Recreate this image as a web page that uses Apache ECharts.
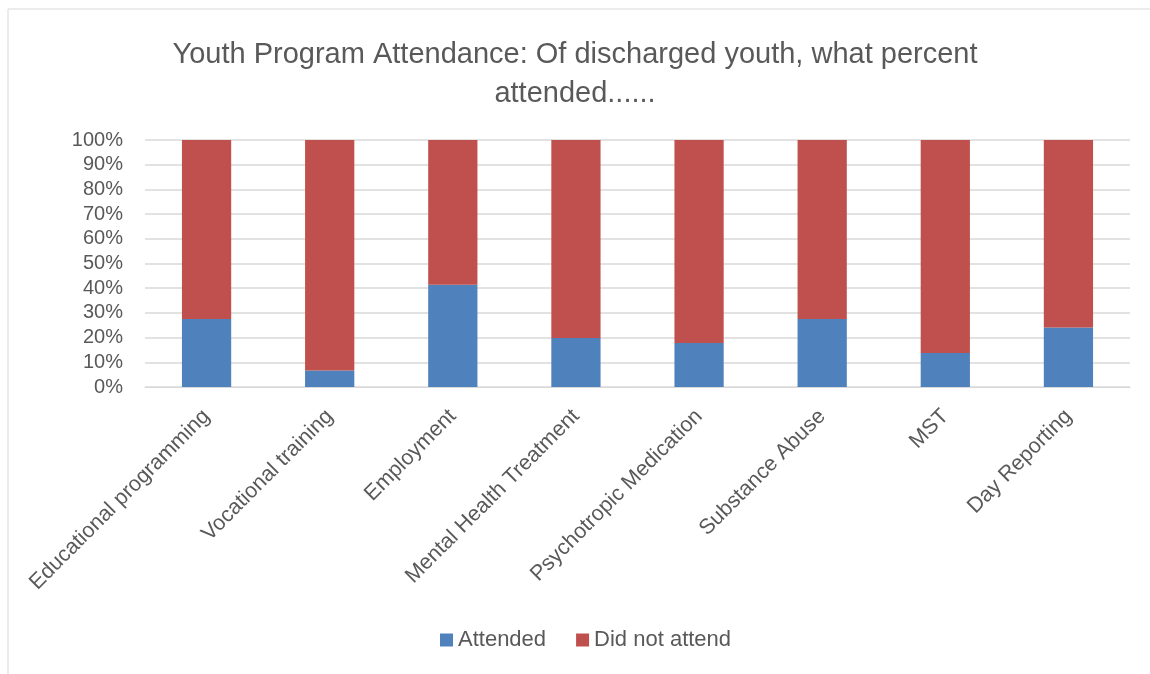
<!DOCTYPE html>
<html><head><meta charset="utf-8">
<script src="https://cdn.jsdelivr.net/npm/echarts@6/dist/echarts.min.js"></script>
<style>html,body{margin:0;padding:0;background:#fff}#c{width:1150px;height:674px}</style>
</head><body><div id="c"></div>
<script>
const categories = ["Educational programming","Vocational training","Employment","Mental Health Treatment","Psychotropic Medication","Substance Abuse","MST","Day Reporting"];
const attended = [27.5, 6.7, 41.4, 19.8, 17.8, 27.5, 13.8, 24.1];
const didNotAttend = attended.map(v => +(100 - v).toFixed(1));
const yTicks = [0,10,20,30,40,50,60,70,80,90,100];
const FONT = "'Liberation Sans', 'Open Sans', sans-serif";
const chart = echarts.init(document.getElementById('c'), null, {renderer:'canvas'});
chart.setOption({
  animation:false,
  textStyle:{fontFamily:FONT},
  graphic:[{type:'rect',shape:{x:8,y:9,width:1160,height:700},style:{fill:'none',stroke:'#d9d9d9',lineWidth:1},silent:true}],
  title:{text:'Youth Program Attendance: Of discharged youth, what percent\nattended......',left:'center',top:30,
    textStyle:{fontFamily:FONT,fontSize:29,fontWeight:'normal',color:'#595959',lineHeight:39}},
  legend:{bottom:18,left:435,itemWidth:13,itemHeight:13,itemGap:30,icon:'rect',
    textStyle:{fontFamily:FONT,fontSize:22,color:'#595959'},data:['Attended','Did not attend']},
  grid:{left:145,right:20,top:140,bottom:287,containLabel:false},
  xAxis:{type:'category',data:categories,
    axisLine:{lineStyle:{color:'#d9d9d9'}},axisTick:{show:false},
    axisLabel:{rotate:45,interval:0,fontFamily:FONT,fontSize:21.5,color:'#595959',margin:26}},
  yAxis:{type:'value',min:0,max:100,interval:10,
    axisLine:{show:false},axisTick:{show:false},
    splitLine:{lineStyle:{color:'#d9d9d9',width:1.5}},
    axisLabel:{formatter:v=>yTicks.includes(v)?v+'%':'',fontFamily:FONT,fontSize:20,color:'#595959',margin:22}},
  series:[
    {name:'Attended',type:'bar',stack:'a',data:attended,barWidth:'40%',itemStyle:{color:'#4f81bd'}},
    {name:'Did not attend',type:'bar',stack:'a',data:didNotAttend,barWidth:'40%',itemStyle:{color:'#c0504d'}}
  ]
});
</script></body></html>
